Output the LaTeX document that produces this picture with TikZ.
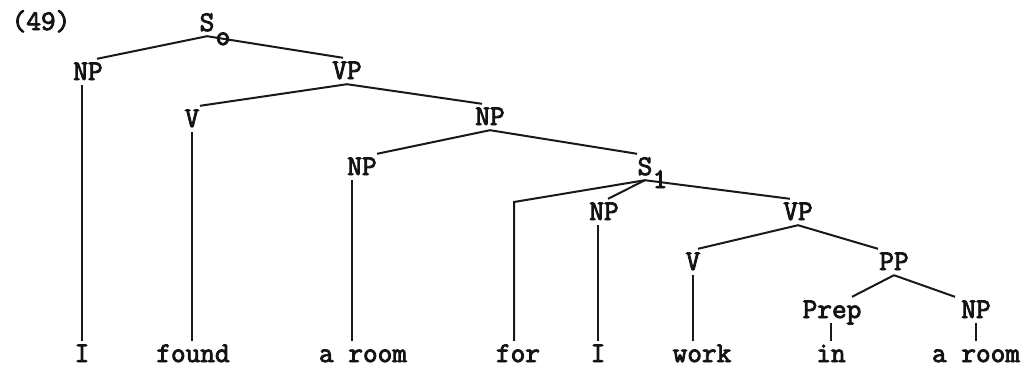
\documentclass[tikz,border=0pt]{standalone}
\usepackage{fontspec}
\newfontfamily\treefont[FakeBold=3]{Latin Modern Mono}
\begin{document}
\begin{tikzpicture}[x=1pt,y=-1pt,
  lab/.style={anchor=base, font=\fontsize{28.5}{32}\selectfont\treefont\bfseries, text=black!92,
    text height=16pt, text depth=0pt, inner xsep=0pt, inner ysep=5pt},
  edge/.style={line width=2pt, draw=black!90}]
\useasboundingbox (0,0) rectangle (1029,368);
% labels
\node[lab] (ex) at (41,30) {(49)};
\node[lab] (S0) at (207,31) {S};
\node[lab] (NPa) at (88,80) {NP};
\node[lab] (VPa) at (347,79) {VP};
\node[lab] (Va) at (192,127) {V};
\node[lab] (NPb) at (490,125) {NP};
\node[lab] (NPc) at (362,175) {NP};
\node[lab] (S1) at (645,175) {S};
\node[lab] (NPd) at (604,220) {NP};
\node[lab] (VPb) at (798,220) {VP};
\node[lab] (Vb) at (693,270) {V};
\node[lab] (PP) at (894,270) {PP};
\node[lab] (Prep) at (832,318) {Prep};
\node[lab] (NPe) at (976,318) {NP};
% leaves
\node[lab] (wI) at (82,362) {I};
\node[lab] (wfound) at (193,362) {found};
\node[lab] (waroom) at (363,362) {a room};
\node[lab] (wfor) at (518,362) {for};
\node[lab] (wItwo) at (598,362) {I};
\node[lab] (wwork) at (702,362) {work};
\node[lab] (win) at (831,362) {in};
\node[lab] (waroomtwo) at (976,362) {a room};
\coordinate (fc) at (514,202);
% edges
\draw[edge] (S0.south) -- ([xshift=9pt]NPa.north);
\draw[edge] (S0.south) -- ([xshift=-4pt]VPa.north);
\draw[edge] (VPa.south) -- ([xshift=8pt]Va.north);
\draw[edge] (VPa.south) -- ([xshift=-8pt]NPb.north);
\draw[edge] (NPb.south) -- ([xshift=15pt]NPc.north);
\draw[edge] (NPb.south) -- ([xshift=-8pt]S1.north);
\draw[edge] (S1.south) -- (fc) -- (fc |- wfor.north);
\draw[edge] (S1.south) -- ([xshift=4pt]NPd.north);
\draw[edge] (S1.south) -- ([xshift=-8pt]VPb.north);
\draw[edge] (VPb.south) -- ([xshift=5pt]Vb.north);
\draw[edge] (VPb.south) -- ([xshift=-16pt]PP.north);
\draw[edge] (PP.south) -- ([xshift=20pt]Prep.north);
\draw[edge] (PP.south) -- ([xshift=-21pt]NPe.north);
\draw[edge] (NPa.south -| wI.north) -- (wI.north);
\draw[edge] (Va.south) -- (Va.south |- wfound.north);
\draw[edge] ([xshift=-10pt]NPc.south) -- ([xshift=-11pt]waroom.north);
\draw[edge] (wItwo.north |- NPd.south) -- (wItwo.north);
\draw[edge] (Vb.south) -- (Vb.south |- wwork.north);
\draw[edge] (Prep.south -| win.north) -- (win.north);
\draw[edge] (NPe.south) -- (NPe.south |- waroomtwo.north);
% subscripts
\node[lab] (S0sub) at (223,45) {o};
\node[lab] (S1sub) at (660,188) {1};
\end{tikzpicture}
\end{document}
